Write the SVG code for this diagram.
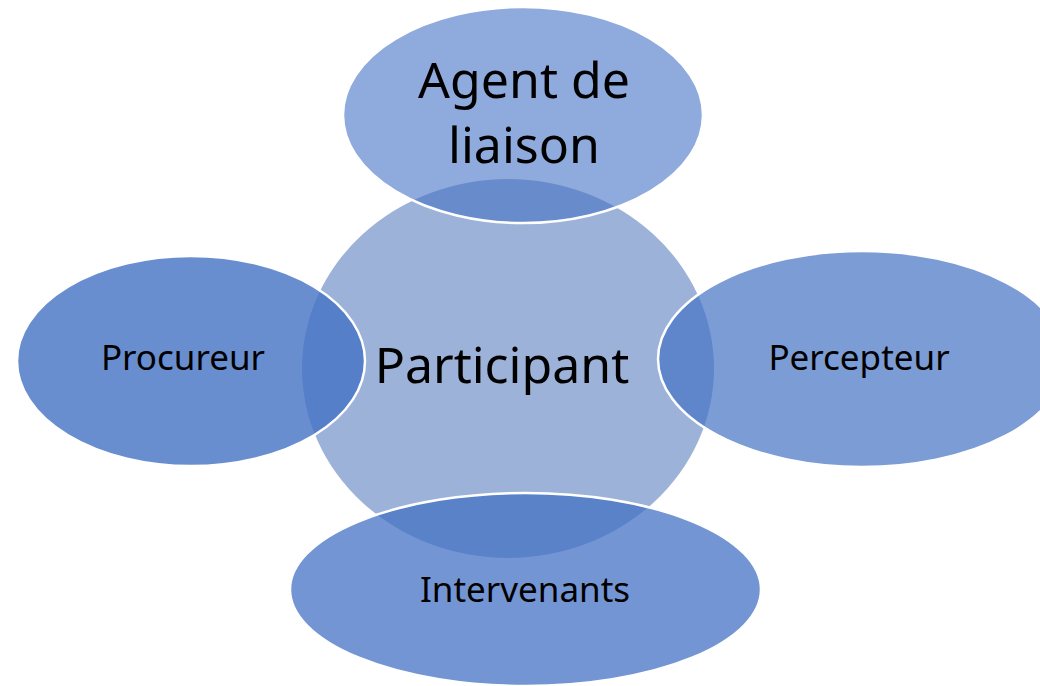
<svg xmlns="http://www.w3.org/2000/svg" width="1040" height="686" viewBox="0 0 1040 686">
<style>
.sat{fill:#4472C4;stroke:#FFFFFF;stroke-width:2.5}
.t{font-family:"Noto Sans","Open Sans",sans-serif;fill:#000000;text-anchor:middle}
.big{font-size:50px}
.sm{font-size:35px}
</style>
<rect width="1040" height="686" fill="#FFFFFF"/>
<g id="connectors"></g>
<g id="participant">
<ellipse cx="508" cy="368.5" rx="206" ry="189.5" fill="#9DB2D8"/>
</g>
<g id="agent">
<ellipse class="sat" cx="523" cy="115" rx="180" ry="108" fill-opacity="0.6"/>
<text class="t big" x="524" y="98">Agent de</text>
<text class="t big" x="524" y="163">liaison</text>
</g>
<g id="procureur">
<ellipse class="sat" cx="191" cy="361" rx="174" ry="105" fill-opacity="0.8"/>
<text class="t sm" x="183" y="370">Procureur</text>
</g>
<g id="percepteur">
<ellipse class="sat" cx="862" cy="359" rx="204" ry="108" fill-opacity="0.7"/>
<text class="t sm" x="859" y="370">Percepteur</text>
</g>
<g id="intervenants">
<ellipse class="sat" cx="525.5" cy="589.5" rx="235.5" ry="96.5" fill-opacity="0.75"/>
<text class="t sm" x="525" y="602">Intervenants</text>
</g>
<text class="t big" x="502" y="383">Participant</text>
</svg>
